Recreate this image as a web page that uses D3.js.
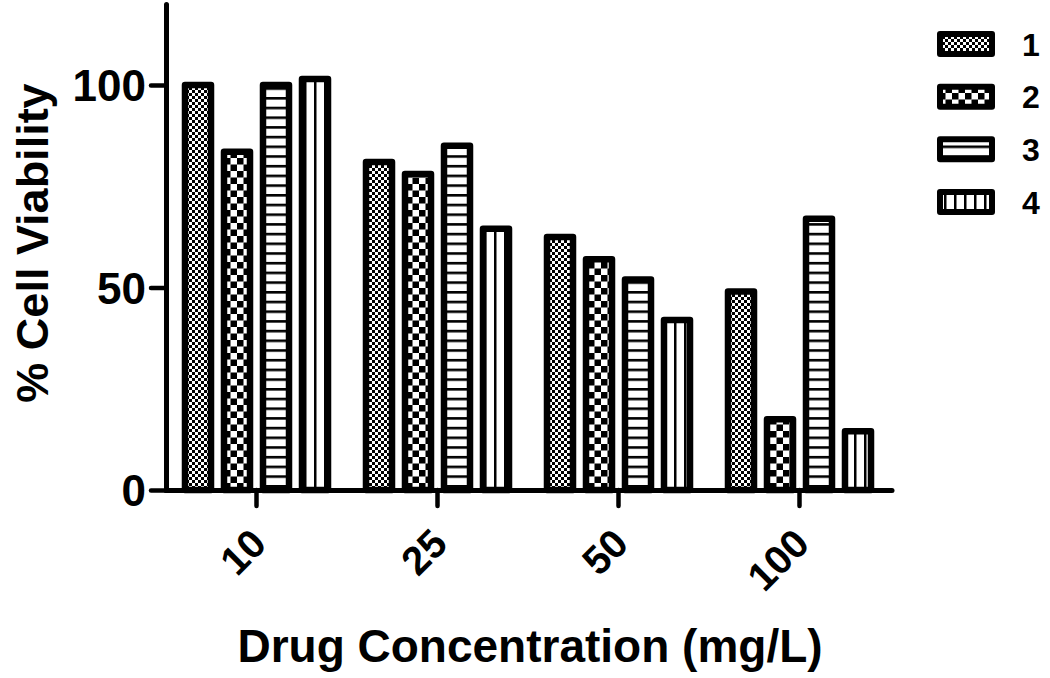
<!DOCTYPE html>
<html>
<head>
<meta charset="utf-8">
<script src="https://cdn.jsdelivr.net/npm/d3@7"></script>
<style>
  html, body { margin: 0; padding: 0; background: #fff; }
  svg { display: block; }
  text { font-family: "Liberation Sans", Arial, Helvetica, sans-serif; font-weight: bold; fill: #000; }
</style>
</head>
<body>
<svg id="chart" width="1050" height="678"></svg>
<script>
// ---- data ----
const categories = ["10", "25", "50", "100"];
const seriesNames = ["1", "2", "3", "4"];
const series1 = [100, 81, 62.5, 49];
const series2 = [83.5, 78, 57, 17.5];
const series3 = [100, 85, 52, 67];
const series4 = [101.5, 64.5, 42, 14.5];
const yTicks = [0, 50, 100];
const seriesValues = [series1, series2, series3, series4];

const svg = d3.select("#chart");

// ---- patterns ----
const defs = svg.append("defs");
// 1: fine checker
const p1 = defs.append("pattern").attr("id", "pat1").attr("patternUnits", "userSpaceOnUse")
  .attr("width", 6).attr("height", 6);
p1.append("rect").attr("width", 6).attr("height", 6).attr("fill", "#fff");
p1.append("rect").attr("width", 3).attr("height", 3).attr("fill", "#000");
p1.append("rect").attr("x", 3).attr("y", 3).attr("width", 3).attr("height", 3).attr("fill", "#000");
// 2: coarse checker
const p2 = defs.append("pattern").attr("id", "pat2").attr("patternUnits", "userSpaceOnUse")
  .attr("width", 13).attr("height", 13).attr("x", 3).attr("y", 2);
p2.append("rect").attr("width", 13).attr("height", 13).attr("fill", "#fff");
p2.append("rect").attr("width", 6.5).attr("height", 6.5).attr("fill", "#000");
p2.append("rect").attr("x", 6.5).attr("y", 6.5).attr("width", 6.5).attr("height", 6.5).attr("fill", "#000");
// 3: horizontal lines
const p3 = defs.append("pattern").attr("id", "pat3").attr("patternUnits", "userSpaceOnUse")
  .attr("width", 10).attr("height", 9.7);
p3.append("rect").attr("width", 10).attr("height", 9.7).attr("fill", "#fff");
p3.append("rect").attr("y", 0).attr("width", 10).attr("height", 2.6).attr("fill", "#000");
// 4: vertical lines
const p4 = defs.append("pattern").attr("id", "pat4").attr("patternUnits", "userSpaceOnUse")
  .attr("width", 10).attr("height", 10).attr("x", 4);
p4.append("rect").attr("width", 10).attr("height", 10).attr("fill", "#fff");
p4.append("rect").attr("x", 0).attr("width", 2.5).attr("height", 10).attr("fill", "#000");
const patIds = ["pat1", "pat2", "pat3", "pat4"];

// ---- scales ----
const x0 = d3.scaleBand().domain(categories).range([166, 890]).paddingInner(0).paddingOuter(0);
const x1 = d3.scaleBand().domain(seriesNames).range([0, x0.bandwidth()])
  .paddingInner(0.333).paddingOuter(0.487);
const y = d3.scaleLinear().domain([0, 120]).range([490, 4]);

// ---- bars ----
const gBars = svg.append("g");
categories.forEach((c, ci) => {
  seriesNames.forEach((s, si) => {
    const v = seriesValues[si][ci];
    gBars.append("rect")
      .attr("x", x0(c) + x1(s))
      .attr("y", y(v))
      .attr("width", x1.bandwidth())
      .attr("height", y(0) - y(v))
      .attr("fill", "url(#" + patIds[si] + ")")
      .attr("stroke", "#000")
      .attr("stroke-width", 6.5)
      .attr("stroke-linejoin", "round");
  });
});

// ---- axes ----
const yAxis = svg.append("g").attr("transform", "translate(166,0)")
  .call(d3.axisLeft(y).tickValues(yTicks).tickSize(15).tickSizeOuter(0).tickPadding(5));
yAxis.select(".domain").attr("stroke", "#000").attr("stroke-width", 5).attr("stroke-linecap", "round");
yAxis.selectAll(".tick line").attr("stroke", "#000").attr("stroke-width", 4.5).attr("stroke-linecap", "round");
yAxis.selectAll(".tick text").style("font-size", "44px").attr("dy", "0.36em");

const xAxis = svg.append("g").attr("transform", "translate(0,490)")
  .call(d3.axisBottom(x0).tickSize(16).tickSizeOuter(0));
xAxis.select(".domain").attr("stroke", "#000").attr("stroke-width", 5).attr("stroke-linecap", "round")
  .attr("d", "M166,0.5H892");
xAxis.selectAll(".tick line").attr("stroke", "#000").attr("stroke-width", 4.5).attr("stroke-linecap", "round");
xAxis.selectAll(".tick text")
  .style("font-size", "40px")
  .attr("text-anchor", "end")
  .attr("dy", null)
  .attr("y", 0)
  .attr("transform", "translate(12,56) rotate(-45)");

// ---- axis titles ----
svg.append("text")
  .attr("x", 530).attr("y", 662)
  .attr("text-anchor", "middle")
  .style("font-size", "46px")
  .text("Drug Concentration (mg/L)");

svg.append("text")
  .attr("transform", "translate(48,243) rotate(-90)")
  .attr("text-anchor", "middle")
  .style("font-size", "45px")
  .text("% Cell Viability");

// ---- legend ----
const legendY = d3.scalePoint().domain(seriesNames).range([44, 202]);
const lg = svg.append("g");
seriesNames.forEach((s, si) => {
  lg.append("rect")
    .attr("x", 940).attr("y", legendY(s) - 10)
    .attr("width", 52).attr("height", 20)
    .attr("fill", "url(#" + patIds[si] + ")")
    .attr("stroke", "#000").attr("stroke-width", 6)
    .attr("stroke-linejoin", "round");
  lg.append("text")
    .attr("x", 1022).attr("y", legendY(s))
    .attr("dy", "0.36em")
    .style("font-size", "32px")
    .text(s);
});
</script>
</body>
</html>
